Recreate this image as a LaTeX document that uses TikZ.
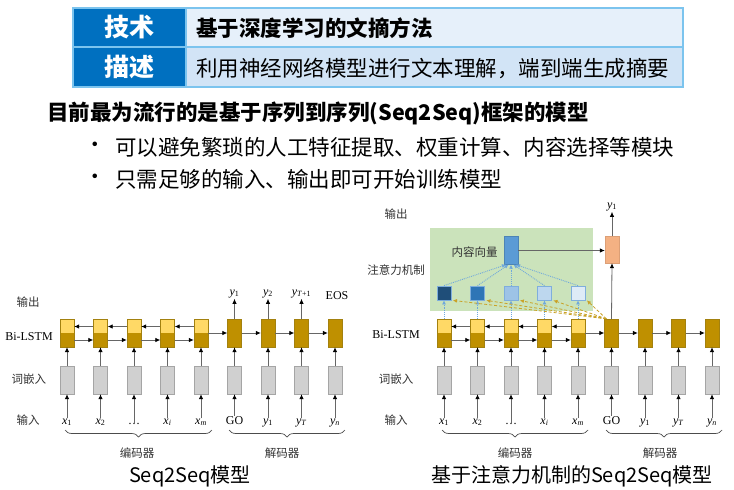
\documentclass[tikz,border=0pt]{standalone}
\usepackage{fontspec}
\setmainfont{Liberation Serif}
\newfontfamily\cjk{Noto Sans CJK SC}
\usetikzlibrary{arrows.meta,decorations.pathreplacing}

\definecolor{hdblue}{HTML}{0070C0}
\definecolor{rowa}{HTML}{E6F0FA}
\definecolor{rowb}{HTML}{D2E4F6}
\definecolor{rulec}{HTML}{7CC4EE}
\definecolor{lstmhi}{HTML}{FFD966}
\definecolor{lstmlo}{HTML}{BF9000}
\definecolor{lstmedge}{HTML}{A3810F}
\definecolor{embfill}{HTML}{D0D0D0}
\definecolor{embedge}{HTML}{A5A5A5}
\definecolor{attnbg}{HTML}{CBE3BB}
\definecolor{ctxblue}{HTML}{5B9BD5}
\definecolor{outpink}{HTML}{F4B183}
\definecolor{wa}{HTML}{1F4E79}
\definecolor{wb}{HTML}{2E75B6}
\definecolor{wc}{HTML}{9DC3E6}
\definecolor{wd}{HTML}{BDD7EE}
\definecolor{we}{HTML}{DEEBF7}
\definecolor{sqedge}{HTML}{7FAEDC}
\definecolor{dotblue}{HTML}{6FA8DC}
\definecolor{dashgold}{HTML}{C9A227}

% italic symbol with upright subscript, set in the serif text font
\newcommand{\sym}[2]{\textit{#1}\textsubscript{#2}}

\tikzset{
  encell/.style={draw=lstmedge, fill=lstmlo, minimum width=14pt, minimum height=28pt, inner sep=0pt,
    path picture={\fill[lstmhi] (path picture bounding box.north west) rectangle (path picture bounding box.east);}},
  decell/.style={draw=lstmedge, fill=lstmlo, minimum width=14pt, minimum height=28pt, inner sep=0pt},
  embox/.style={draw=embedge, fill=embfill, minimum width=14pt, minimum height=28pt, inner sep=0pt},
  wbox/.style={draw=sqedge, line width=0.8pt, minimum width=14pt, minimum height=14pt, inner sep=0pt},
  arr/.style={draw=black!60, line width=0.8pt, -{Latex[length=5pt,width=4.5pt,black]}},
  dotarr/.style={draw=dotblue, densely dotted, line width=0.9pt, -{Latex[length=4pt,width=4pt,dotblue]}},
  goldarr/.style={draw=dashgold, densely dashed, line width=0.8pt, -{Latex[length=4pt,width=4pt,dashgold]}},
  lbl/.style={font=\cjk\fontsize{11.5}{13}\selectfont, text=black!80, inner sep=1pt},
  tok/.style={font=\fontsize{12}{14}\selectfont, inner sep=1pt},
  brc/.style={draw=black!70, line width=0.7pt, decorate, decoration={brace, mirror, amplitude=7pt}},
  hdcell/.style={fill=hdblue, draw=rulec, line width=1.5pt, inner sep=0pt, text=white,
    font=\cjk\bfseries\fontsize{25}{28}\selectfont},
  txcell/.style={draw=rulec, line width=1.5pt, inner sep=0pt, minimum width=497pt},
  body/.style={font=\cjk\fontsize{21.5}{25}\selectfont, inner sep=0pt, anchor=west},
  captext/.style={font=\cjk\fontsize{20}{24}\selectfont, inner sep=0pt}
}

\begin{document}
\begin{tikzpicture}[x=1pt, y=-1pt]
\useasboundingbox[fill=white] (0,0) rectangle (734,490);

% ---------- header table ----------
\node[txcell, fill=rowa, minimum height=39pt] (r1) at (434.5,27.5) {};
\node[txcell, fill=rowb, minimum height=40pt] (r2) at (434.5,67) {};
\node[hdcell, minimum width=113pt, minimum height=39pt] (h1) at (129.5,27.5) {技术};
\node[hdcell, minimum width=113pt, minimum height=40pt] (h2) at (129.5,67) {描述};
\node[body, font=\cjk\bfseries\fontsize{21.5}{25}\selectfont] (t1) at (196,28) {基于深度学习的文摘方法};
\node[body] (t2) at (196,68) {利用神经网络模型进行文本理解，端到端生成摘要};

% ---------- text lines ----------
\node[body, font=\cjk\bfseries\fontsize{21.5}{25}\selectfont] (head) at (47,113) {目前最为流行的是基于序列到序列(Seq2Seq)框架的模型};
\node[body] (b1) at (84,147) {•};
\node[body] (p1) at (115,147) {可以避免繁琐的人工特征提取、权重计算、内容选择等模块};
\node[body] (b2) at (84,179) {•};
\node[body] (p2) at (115,179) {只需足够的输入、输出即可开始训练模型};

% ---------- plain Seq2Seq ----------
\node[lbl] (lout) at (28,302) {输出};
\node[tok] (lbi) at (29,337) {Bi-LSTM};
\node[lbl] (lemb) at (29,379) {词嵌入};
\node[lbl] (lin) at (28,420) {输入};

\foreach \i in {1,...,5}
  \node[encell] (le\i) at ({67+33.5*(\i-1)},333) {};
\foreach \i in {6,...,9}
  \node[decell] (le\i) at ({67+33.5*(\i-1)},333) {};
\foreach \i in {1,...,9}
  \node[embox] (lw\i) at ({67+33.5*(\i-1)},380) {};
\foreach \t [count=\i] in {\sym{x}{1},\sym{x}{2},…,\sym{x}{\textit{i}},\sym{x}{\textit{m}},GO,\sym{y}{1},\sym{y}{\textit{T}},\sym{y}{\textit{n}}}
  \node[tok, anchor=base] (lt\i) at ({67+33.5*(\i-1)},424) {\t};

\foreach \i in {1,...,9} {
  \draw[arr] ([yshift=-1pt]lt\i.north) -- (lw\i.south);
  \draw[arr] (lw\i.north) -- (le\i.south);
}
\foreach \i/\j in {1/2,2/3,3/4,4/5} {
  \draw[arr] ([yshift=6.5pt]le\j.west) -- ([yshift=6.5pt]le\i.east);
  \draw[arr] ([yshift=-7pt]le\i.east) -- ([yshift=-7pt]le\j.west);
}
\foreach \i/\j in {5/6,6/7,7/8,8/9}
  \draw[arr] (le\i.east) -- (le\j.west);

\node[tok, anchor=base] (lo6) at (234.5,295) {\sym{y}{1}};
\node[tok, anchor=base] (lo7) at (268,295) {\sym{y}{2}};
\node[tok, anchor=base] (lo8) at (301.5,295) {\sym{y}{\textit{T}+1}};
\node[tok, anchor=base] (lo9) at (337,299) {EOS};
\foreach \i in {6,7,8}
  \draw[arr] (le\i.north) -- (lo\i.south);

\draw[brc] (65,430) -- (212,430);
\draw[brc] (229,430) -- (345,430);
\node[lbl] (lenc) at (137,453) {编码器};
\node[lbl] (ldec) at (282,453) {解码器};
\node[captext] (lcap) at (190,476) {Seq2Seq模型};

% ---------- Seq2Seq with attention ----------
\node[fill=attnbg, minimum width=163pt, minimum height=83pt, inner sep=0pt] (attn) at (511.5,269.5) {};

\node[lbl] (rout) at (396,214) {输出};
\node[lbl] (ratt) at (396,270) {注意力机制};
\node[tok] (rbi) at (396,335) {Bi-LSTM};
\node[lbl] (remb) at (396,379) {词嵌入};
\node[lbl] (rin) at (396,420) {输入};

\foreach \i in {1,...,5}
  \node[encell] (re\i) at ({444+33.5*(\i-1)},333) {};
\foreach \i in {6,...,9}
  \node[decell] (re\i) at ({444+33.5*(\i-1)},333) {};
\foreach \i in {1,...,9}
  \node[embox] (rw\i) at ({444+33.5*(\i-1)},380) {};
\foreach \t [count=\i] in {\sym{x}{1},\sym{x}{2},…,\sym{x}{\textit{i}},\sym{x}{\textit{m}},GO,\sym{y}{1},\sym{y}{\textit{T}},\sym{y}{\textit{n}}}
  \node[tok, anchor=base] (rt\i) at ({444+33.5*(\i-1)},424) {\t};

\foreach \i in {1,...,9} {
  \draw[arr] ([yshift=-1pt]rt\i.north) -- (rw\i.south);
  \draw[arr] (rw\i.north) -- (re\i.south);
}
\foreach \i/\j in {1/2,2/3,3/4,4/5} {
  \draw[arr] ([yshift=6.5pt]re\j.west) -- ([yshift=6.5pt]re\i.east);
  \draw[arr] ([yshift=-7pt]re\i.east) -- ([yshift=-7pt]re\j.west);
}
\foreach \i/\j in {5/6,6/7,7/8,8/9}
  \draw[arr] (re\i.east) -- (re\j.west);

% attention weights
\foreach \c [count=\i] in {wa,wb,wc,wd,we}
  \node[wbox, fill=\c] (sq\i) at ({444+33.5*(\i-1)},293) {};

\node[fill=ctxblue, draw=ctxblue!85!black, minimum width=14pt, minimum height=28pt, inner sep=0pt] (cv) at (511,250.5) {};
\node[lbl] (cvl) at (474.5,252) {内容向量};
\node[fill=outpink, draw=outpink!90!black, minimum width=14pt, minimum height=27pt, inner sep=0pt] (pk) at (612,249.5) {};
\node[tok, anchor=base] (ry) at (612,208) {\sym{y}{1}};

\foreach \i in {1,...,5}
  \draw[dotarr] (re\i.north) -- (sq\i.south);
\foreach \i/\s in {1/-5,2/-2.5,3/0,4/2.5,5/5}
  \draw[dotarr] (sq\i.north) -- ([xshift=\s pt]cv.south);
\foreach \i in {1,...,5}
  \draw[goldarr] ([xshift=2pt]re6.north west) -- ([xshift=1.5pt]sq\i.south east);

\draw[arr] (cv.east) -- (cv.east -| pk.west);
\draw[arr] (re6.north) -- (pk.south);
\draw[arr] (pk.north) -- (ry.south);

\draw[brc] (442,430) -- (588,430);
\draw[brc] (606,430) -- (722,430);
\node[lbl] (renc) at (515,453) {编码器};
\node[lbl] (rdec) at (660,453) {解码器};
\node[captext] (rcap) at (572,476) {基于注意力机制的Seq2Seq模型};
\end{tikzpicture}
\end{document}
